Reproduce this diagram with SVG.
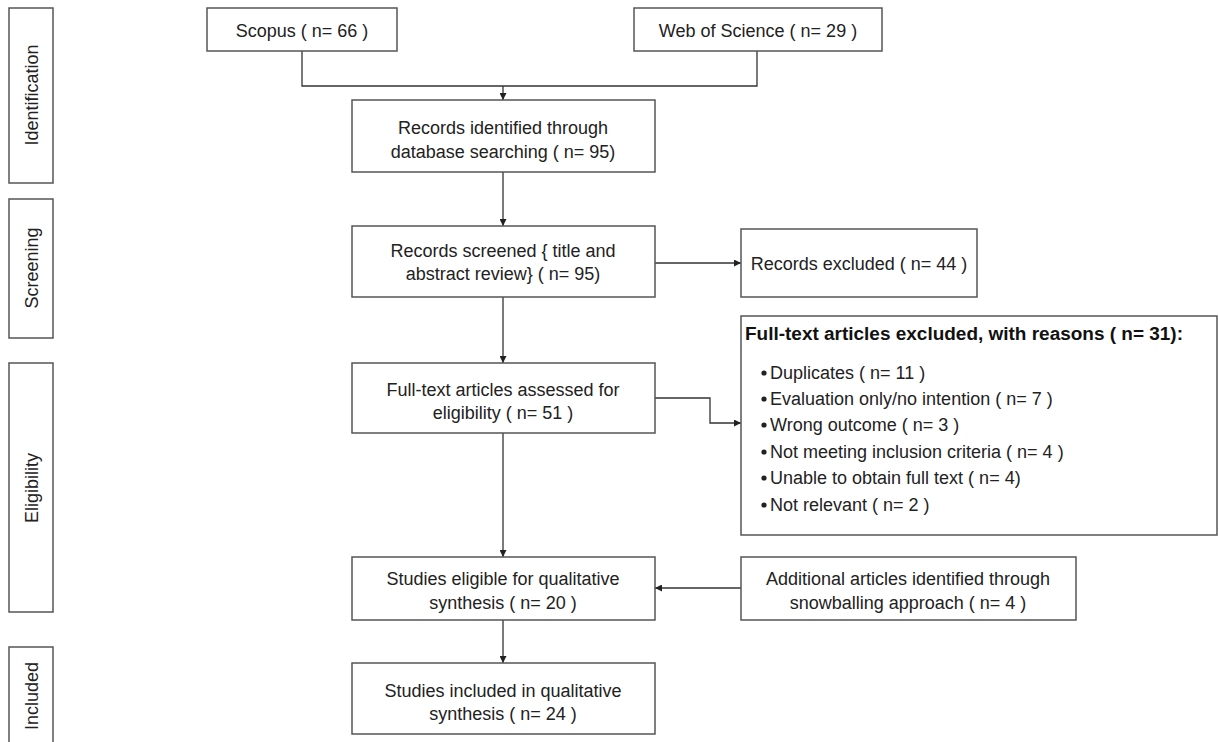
<svg xmlns="http://www.w3.org/2000/svg" width="1219" height="742" viewBox="0 0 1219 742">
<defs>
<style>
.box{fill:#fff;stroke:#555;stroke-width:1.5}
.t{font-family:"Liberation Sans",Arial,sans-serif;font-size:18px;fill:#222;text-anchor:middle}
.l{font-family:"Liberation Sans",Arial,sans-serif;font-size:18px;fill:#222}
.b{font-family:"Liberation Sans",Arial,sans-serif;font-size:18px;fill:#111;font-weight:bold}
.c{fill:none;stroke:#333;stroke-width:1.3}
</style>
<marker id="ah" viewBox="0 0 10 10" refX="10" refY="5" markerWidth="7" markerHeight="7" orient="auto" markerUnits="userSpaceOnUse"><path d="M0,0 L10,5 L0,10 z" fill="#222"/></marker>
</defs>
<rect width="1219" height="742" fill="#fff"/>
<g id="side-identification"><rect class="box" x="9" y="8" width="44" height="175"/><text class="t" transform="translate(38,95) rotate(-90)">Identification</text></g>
<g id="side-screening"><rect class="box" x="9" y="199" width="44" height="139"/><text class="t" transform="translate(38,268) rotate(-90)">Screening</text></g>
<g id="side-eligibility"><rect class="box" x="9" y="363" width="44" height="249"/><text class="t" transform="translate(38,488) rotate(-90)">Eligibility</text></g>
<g id="side-included"><rect class="box" x="9" y="647" width="44" height="100"/><text class="t" transform="translate(38,696) rotate(-90)">Included</text></g>

<g id="connectors">
<path class="c" d="M302,51 V86 H757 V51"/>
<path class="c" d="M503,86 V100" marker-end="url(#ah)"/>
<path class="c" d="M503,172 V226" marker-end="url(#ah)"/>
<path class="c" d="M655,263 H741" marker-end="url(#ah)"/>
<path class="c" d="M503,297 V363" marker-end="url(#ah)"/>
<path class="c" d="M655,398 H710 V423 H741" marker-end="url(#ah)"/>
<path class="c" d="M503,433 V557" marker-end="url(#ah)"/>
<path class="c" d="M741,588 H655" marker-end="url(#ah)"/>
<path class="c" d="M503,620 V663" marker-end="url(#ah)"/>
</g>

<g id="scopus"><rect class="box" x="207" y="8" width="190" height="43"/><text class="t" x="302" y="37">Scopus ( n= 66 )</text></g>
<g id="wos"><rect class="box" x="634" y="8" width="248" height="43"/><text class="t" x="758" y="37">Web of Science ( n= 29 )</text></g>
<g id="identified"><rect class="box" x="352" y="100" width="303" height="72"/><text class="t" x="503" y="134">Records identified through</text><text class="t" x="503" y="158">database searching ( n= 95)</text></g>
<g id="screened"><rect class="box" x="352" y="226" width="303" height="71"/><text class="t" x="503" y="257">Records screened { title and</text><text class="t" x="503" y="280">abstract review} ( n= 95)</text></g>
<g id="excluded"><rect class="box" x="741" y="229" width="236" height="68"/><text class="t" x="859" y="270">Records excluded ( n= 44 )</text></g>
<g id="fulltext"><rect class="box" x="352" y="363" width="303" height="70"/><text class="t" x="503" y="396">Full-text articles assessed for</text><text class="t" x="503" y="419">eligibility ( n= 51 )</text></g>
<g id="reasons"><rect class="box" x="741" y="316" width="476" height="219"/>
<text class="b" x="745" y="340" textLength="438" lengthAdjust="spacingAndGlyphs">Full-text articles excluded, with reasons ( n= 31):</text>
<g fill="#222"><circle cx="764" cy="373" r="2.6"/><circle cx="764" cy="399" r="2.6"/><circle cx="764" cy="425" r="2.6"/><circle cx="764" cy="452" r="2.6"/><circle cx="764" cy="478" r="2.6"/><circle cx="764" cy="505" r="2.6"/></g>
<text class="l" x="770" y="379">Duplicates ( n= 11 )</text>
<text class="l" x="770" y="405">Evaluation only/no intention ( n= 7 )</text>
<text class="l" x="770" y="431">Wrong outcome ( n= 3 )</text>
<text class="l" x="770" y="458">Not meeting inclusion criteria ( n= 4 )</text>
<text class="l" x="770" y="484">Unable to obtain full text ( n= 4)</text>
<text class="l" x="770" y="511">Not relevant ( n= 2 )</text>
</g>
<g id="eligible"><rect class="box" x="352" y="557" width="303" height="63"/><text class="t" x="503" y="585">Studies eligible for qualitative</text><text class="t" x="503" y="609">synthesis ( n= 20 )</text></g>
<g id="additional"><rect class="box" x="741" y="557" width="335" height="63"/><text class="t" x="908" y="585">Additional articles identified through</text><text class="t" x="908" y="609">snowballing approach  ( n= 4 )</text></g>
<g id="included"><rect class="box" x="352" y="663" width="303" height="71"/><text class="t" x="503" y="697">Studies included in qualitative</text><text class="t" x="503" y="720">synthesis ( n= 24 )</text></g>
</svg>
